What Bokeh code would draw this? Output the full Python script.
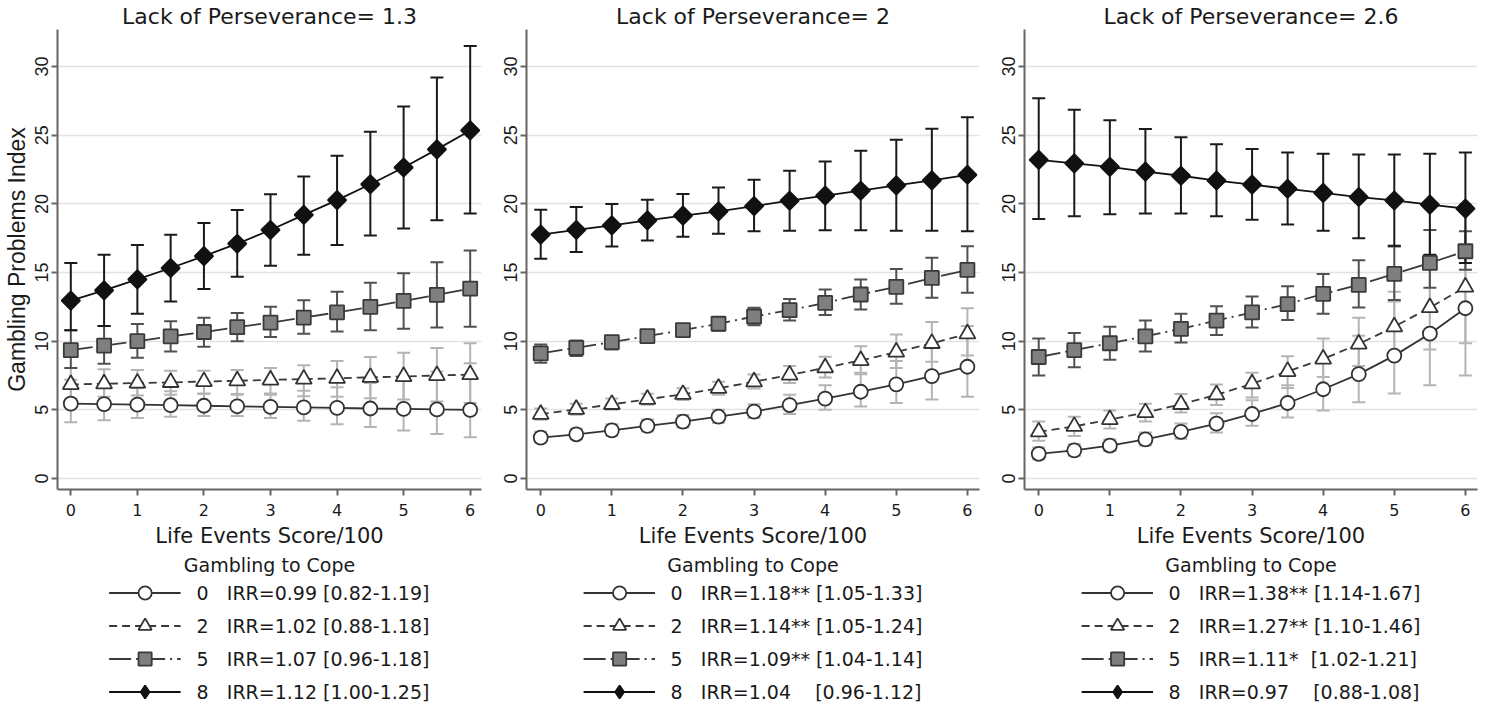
from math import pi
from bokeh.plotting import figure
from bokeh.layouts import row, column
from bokeh.models import (ColumnDataSource, Range1d, FixedTicker, Whisker, TeeHead,
                          Legend, LegendItem)
from bokeh.embed import file_html
from bokeh.resources import INLINE

# ---------------- data ----------------
life_events = [0, 0.5, 1, 1.5, 2, 2.5, 3, 3.5, 4, 4.5, 5, 5.5, 6]
x_ticks = [0, 1, 2, 3, 4, 5, 6]
y_ticks = [0, 5, 10, 15, 20, 25, 30]
cope_levels = ["0", "2", "5", "8"]
panel_titles = ["Lack of Perseverance= 1.3", "Lack of Perseverance= 2", "Lack of Perseverance= 2.6"]

# Lack of Perseverance = 1.3
lp13_g0 = [5.45, 5.42, 5.38, 5.34, 5.30, 5.26, 5.22, 5.18, 5.14, 5.10, 5.07, 5.03, 5.00]
lp13_g0_lo = [4.1, 4.25, 4.4, 4.5, 4.55, 4.55, 4.4, 4.2, 3.95, 3.75, 3.5, 3.25, 3.0]
lp13_g0_hi = [7.2, 6.9, 6.6, 6.35, 6.2, 6.1, 6.2, 6.4, 6.65, 6.95, 7.35, 7.8, 8.4]
lp13_g2 = [6.85, 6.90, 6.95, 7.00, 7.06, 7.12, 7.18, 7.24, 7.30, 7.37, 7.43, 7.50, 7.57]
lp13_g2_lo = [5.8, 5.95, 6.05, 6.1, 6.15, 6.15, 6.1, 6.0, 5.95, 5.85, 5.75, 5.6, 5.5]
lp13_g2_hi = [8.05, 7.95, 7.9, 7.85, 7.85, 7.9, 8.05, 8.25, 8.55, 8.85, 9.15, 9.5, 9.85]
lp13_g5 = [9.35, 9.68, 10.0, 10.35, 10.67, 11.02, 11.35, 11.72, 12.1, 12.5, 12.93, 13.38, 13.83]
lp13_g5_lo = [8.05, 8.35, 8.8, 9.25, 9.6, 10.0, 10.3, 10.55, 10.7, 10.8, 10.9, 11.0, 11.05]
lp13_g5_hi = [10.8, 11.1, 11.25, 11.45, 11.7, 12.05, 12.5, 12.98, 13.6, 14.25, 14.95, 15.75, 16.6]
lp13_g8 = [12.95, 13.7, 14.5, 15.33, 16.2, 17.1, 18.1, 19.2, 20.27, 21.43, 22.65, 23.97, 25.35]
lp13_g8_lo = [10.8, 11.1, 12.0, 12.9, 13.8, 14.7, 15.5, 16.3, 17.0, 17.7, 18.2, 18.8, 19.3]
lp13_g8_hi = [15.7, 16.3, 17.0, 17.75, 18.6, 19.55, 20.7, 22.0, 23.5, 25.25, 27.1, 29.2, 31.5]
lp13_irr = ["IRR=0.99 [0.82-1.19]", "IRR=1.02 [0.88-1.18]",
            "IRR=1.07 [0.96-1.18]", "IRR=1.12 [1.00-1.25]"]

# Lack of Perseverance = 2
lp20_g0 = [2.98, 3.22, 3.51, 3.83, 4.14, 4.5, 4.87, 5.35, 5.82, 6.32, 6.86, 7.46, 8.14]
lp20_g0_lo = [2.62, 2.86, 3.12, 3.42, 3.71, 4.05, 4.4, 4.7, 5.0, 5.25, 5.5, 5.75, 5.95]
lp20_g0_hi = [3.4, 3.62, 3.95, 4.29, 4.62, 5.0, 5.4, 6.1, 6.8, 7.6, 8.55, 9.7, 11.1]
lp20_g2 = [4.68, 5.04, 5.4, 5.77, 6.13, 6.57, 7.05, 7.54, 8.07, 8.6, 9.21, 9.84, 10.54]
lp20_g2_lo = [4.28, 4.65, 5.0, 5.38, 5.72, 6.1, 6.55, 6.95, 7.35, 7.7, 8.05, 8.5, 8.95]
lp20_g2_hi = [5.1, 5.45, 5.82, 6.18, 6.57, 7.05, 7.58, 8.19, 8.87, 9.64, 10.49, 11.39, 12.4]
lp20_g5 = [9.11, 9.52, 9.93, 10.37, 10.81, 11.27, 11.8, 12.26, 12.79, 13.4, 13.96, 14.61, 15.19]
lp20_g5_lo = [8.43, 8.92, 9.4, 9.89, 10.37, 10.78, 11.17, 11.5, 11.9, 12.31, 12.72, 13.16, 13.52]
lp20_g5_hi = [9.76, 10.06, 10.37, 10.78, 11.22, 11.75, 12.43, 13.08, 13.76, 14.49, 15.26, 16.07, 16.91]
lp20_g8 = [17.76, 18.1, 18.44, 18.8, 19.14, 19.46, 19.84, 20.23, 20.6, 20.96, 21.35, 21.71, 22.12]
lp20_g8_lo = [16.0, 16.5, 16.9, 17.33, 17.6, 17.83, 18.0, 18.05, 18.08, 18.08, 18.05, 18.05, 18.0]
lp20_g8_hi = [19.58, 19.77, 20.0, 20.3, 20.72, 21.2, 21.76, 22.41, 23.09, 23.87, 24.67, 25.47, 26.31]
lp20_irr = ["IRR=1.18** [1.05-1.33]", "IRR=1.14** [1.05-1.24]",
            "IRR=1.09** [1.04-1.14]", "IRR=1.04\u00a0\u00a0\u00a0\u00a0[0.96-1.12]"]

# Lack of Perseverance = 2.6
lp26_g0 = [1.8, 2.05, 2.4, 2.85, 3.4, 4.0, 4.7, 5.5, 6.5, 7.6, 8.95, 10.55, 12.4]
lp26_g0_lo = [1.4, 1.65, 2.0, 2.4, 2.9, 3.35, 3.85, 4.45, 4.95, 5.55, 6.2, 6.8, 7.5]
lp26_g0_hi = [2.25, 2.5, 2.85, 3.35, 4.0, 4.75, 5.7, 6.8, 8.5, 10.4, 12.9, 16.2, 20.0]
lp26_g2 = [3.4, 3.8, 4.3, 4.8, 5.4, 6.1, 6.9, 7.8, 8.7, 9.8, 11.05, 12.45, 13.95]
lp26_g2_lo = [2.75, 3.1, 3.65, 4.15, 4.8, 5.35, 5.9, 6.6, 7.4, 8.2, 8.9, 9.4, 9.85]
lp26_g2_hi = [4.15, 4.5, 4.95, 5.45, 6.15, 6.85, 7.7, 8.9, 10.2, 11.7, 13.6, 16.0, 19.5]
lp26_g5 = [8.85, 9.35, 9.85, 10.35, 10.9, 11.5, 12.1, 12.7, 13.45, 14.1, 14.9, 15.7, 16.55]
lp26_g5_lo = [7.5, 8.1, 8.65, 9.25, 9.9, 10.45, 11.0, 11.55, 12.0, 12.45, 13.0, 13.9, 15.2]
lp26_g5_hi = [10.2, 10.6, 11.05, 11.5, 12.0, 12.55, 13.25, 14.0, 14.9, 15.9, 16.9, 18.1, 18.0]
lp26_g8 = [23.2, 22.95, 22.7, 22.35, 22.05, 21.7, 21.4, 21.1, 20.8, 20.5, 20.25, 19.95, 19.65]
lp26_g8_lo = [18.9, 19.1, 19.25, 19.3, 19.3, 19.1, 18.85, 18.5, 18.05, 17.5, 16.95, 16.3, 15.7]
lp26_g8_hi = [27.7, 26.85, 26.1, 25.45, 24.85, 24.35, 24.0, 23.75, 23.65, 23.6, 23.6, 23.65, 23.75]
lp26_irr = ["IRR=1.38** [1.14-1.67]", "IRR=1.27** [1.10-1.46]",
            "IRR=1.11*\u00a0\u00a0[1.02-1.21]", "IRR=0.97\u00a0\u00a0\u00a0\u00a0[0.88-1.08]"]

panel_data = [
    ([lp13_g0, lp13_g2, lp13_g5, lp13_g8], [lp13_g0_lo, lp13_g2_lo, lp13_g5_lo, lp13_g8_lo],
     [lp13_g0_hi, lp13_g2_hi, lp13_g5_hi, lp13_g8_hi], lp13_irr),
    ([lp20_g0, lp20_g2, lp20_g5, lp20_g8], [lp20_g0_lo, lp20_g2_lo, lp20_g5_lo, lp20_g8_lo],
     [lp20_g0_hi, lp20_g2_hi, lp20_g5_hi, lp20_g8_hi], lp20_irr),
    ([lp26_g0, lp26_g2, lp26_g5, lp26_g8], [lp26_g0_lo, lp26_g2_lo, lp26_g5_lo, lp26_g8_lo],
     [lp26_g0_hi, lp26_g2_hi, lp26_g5_hi, lp26_g8_hi], lp26_irr),
]

# ---------------- styles ----------------
H_FONT = "DejaVu Sans"       # horizontal texts
V_FONT = "Liberation Sans"   # rotated texts
TXT = "#1a1a1a"
styles = [
    dict(marker="circle", lmarker="circle", size=14, angle=0, fill="white", mline="#333333",
         line="#333333", dash="solid", err="#b4b4b4"),
    dict(marker="triangle", lmarker="triangle", size=16, angle=0, fill="white", mline="#333333",
         line="#3a3a3a", dash="8 5", err="#b4b4b4"),
    dict(marker="square", lmarker="square", size=14, angle=0, fill="#7f7f7f", mline="#3a3a3a",
         line="#3a3a3a", dash="22 5 2 5", err="#505050"),
    dict(marker="square", lmarker="diamond", size=13, angle=pi / 4, fill="#111111",
         mline="#111111", line="#111111", dash="solid", err="#1a1a1a"),
]

widths = [486, 498, 498]
left_borders = [53, 40, 40]
PLOT_H = 550
LEG_H = 155


def make_panel(idx):
    vals, los, his, irr = panel_data[idx]
    p = figure(width=widths[idx], height=PLOT_H,
               x_range=Range1d(-0.2, 6.17), y_range=Range1d(-0.8, 32.7),
               output_backend="svg", toolbar_location=None,
               min_border_left=left_borders[idx], min_border_right=5,
               min_border_top=0, min_border_bottom=0,
               background_fill_color="white", border_fill_color="white",
               outline_line_color=None)
    p.title.text = panel_titles[idx]
    p.title.align = "center"
    p.title.text_font = H_FONT
    p.title.text_font_size = "22px"
    p.title.text_font_style = "normal"
    p.title.text_color = TXT
    p.title.standoff = 2

    p.xaxis.ticker = FixedTicker(ticks=x_ticks)
    p.yaxis.ticker = FixedTicker(ticks=y_ticks)
    for ax in (p.xaxis[0], p.yaxis[0]):
        ax.axis_line_color = "#666666"
        ax.axis_line_width = 2
        ax.major_tick_line_color = "#666666"
        ax.major_tick_line_width = 2
        ax.major_tick_out = 6
        ax.major_tick_in = 0
        ax.minor_tick_line_color = None
        ax.major_label_text_color = TXT
        ax.axis_label_text_color = TXT
        ax.axis_label_text_font_style = "normal"
    p.xaxis.major_label_text_font = H_FONT
    p.xaxis.major_label_text_font_size = "16px"
    p.xaxis.major_label_standoff = 8
    p.xaxis.axis_label = "Life Events Score/100"
    p.xaxis.axis_label_text_font = H_FONT
    p.xaxis.axis_label_text_font_size = "21px"
    p.xaxis.axis_label_standoff = 5
    p.yaxis.major_label_orientation = "vertical"
    p.yaxis.major_label_text_font = V_FONT
    p.yaxis.major_label_text_font_size = "18px"
    p.yaxis.major_label_standoff = 3
    if idx == 0:
        p.yaxis.axis_label = "Gambling Problems Index"
        p.yaxis.axis_label_text_font = V_FONT
        p.yaxis.axis_label_text_font_size = "23px"
        p.yaxis.axis_label_standoff = 3

    p.xgrid.visible = False
    p.ygrid.grid_line_color = "#e2e2e2"
    p.ygrid.grid_line_width = 1.5

    sources = []
    for k in range(4):
        sources.append(ColumnDataSource(dict(x=life_events, y=vals[k], lo=los[k], hi=his[k])))

    for k in range(4):
        st = styles[k]
        w = Whisker(source=sources[k], base="x", upper="hi", lower="lo",
                    line_color=st["err"], line_width=2,
                    upper_head=TeeHead(size=13, line_color=st["err"], line_width=2),
                    lower_head=TeeHead(size=13, line_color=st["err"], line_width=2))
        p.add_layout(w)

    for k in range(4):
        st = styles[k]
        p.line("x", "y", source=sources[k], line_color=st["line"], line_width=1.8,
               line_dash=st["dash"])
        p.scatter("x", "y", source=sources[k], marker=st["marker"], size=st["size"],
                  angle=st["angle"], fill_color=st["fill"], line_color=st["mline"],
                  line_width=1.8)

    # legend panel underneath
    lg = figure(width=widths[idx], height=LEG_H, x_range=Range1d(0, 1), y_range=Range1d(0, 1),
                output_backend="svg", toolbar_location=None,
                min_border_left=left_borders[idx], min_border_right=5,
                min_border_top=0, min_border_bottom=0,
                background_fill_color="white", border_fill_color="white",
                outline_line_color=None)
    lg.axis.visible = False
    lg.grid.visible = False
    lg.title.text = "Gambling to Cope"
    lg.title.align = "center"
    lg.title.text_font = H_FONT
    lg.title.text_font_size = "19px"
    lg.title.text_font_style = "normal"
    lg.title.text_color = TXT
    lg.title.standoff = 2
    items = []
    for k in range(4):
        st = styles[k]
        ln = lg.line(x=[-5, -4], y=[-5, -4], line_color=st["line"], line_width=1.8,
                     line_dash=st["dash"])
        sc = lg.scatter(x=[-5], y=[-5], marker=st["lmarker"], size=st["size"],
                        fill_color=st["fill"], line_color=st["mline"], line_width=1.8)
        label = cope_levels[k] + "\u00a0\u00a0\u00a0" + irr[k]
        items.append(LegendItem(label=label, renderers=[ln, sc]))
    legend = Legend(items=items, location="top_center", orientation="vertical",
                    glyph_width=72, glyph_height=33, label_height=33, spacing=0,
                    label_standoff=16, padding=0, margin=0,
                    label_text_font=H_FONT, label_text_font_size="19px",
                    label_text_color=TXT, border_line_color=None,
                    background_fill_alpha=0)
    lg.add_layout(legend, "center")
    return column(p, lg, spacing=0)


panels = [make_panel(i) for i in range(3)]
layout = row(*panels, spacing=0)

open("out.html", "w").write(file_html(layout, INLINE))
